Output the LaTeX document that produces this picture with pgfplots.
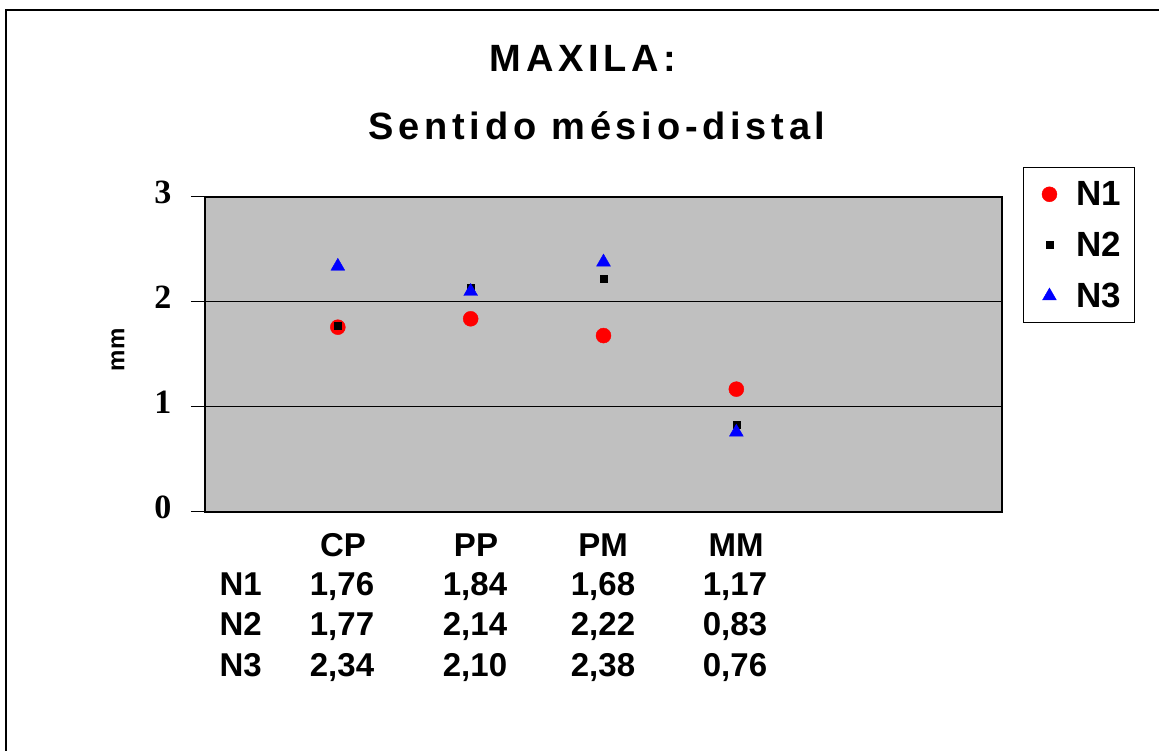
\documentclass[border=0pt]{standalone}
\usepackage{fontspec}
\setmainfont{Liberation Sans}
\newfontfamily\seriffont{Liberation Serif}
\newfontfamily\titlefont[LetterSpace=12.5]{Liberation Sans}
\usepackage{pgfplots}
\pgfplotsset{compat=1.18}
\definecolor{plotgray}{HTML}{C0C0C0}
\begin{document}
\begin{tikzpicture}[x=1pt,y=1pt]
\useasboundingbox (0,0) rectangle (1159,751);
\draw[line width=2pt] (6,-2) -- (6,741) -- (1162,741);
\node[anchor=base] at (583,679) {\titlefont\bfseries\fontsize{38}{38}\selectfont MAXILA:};
\node[anchor=base] at (597,611) {\titlefont\bfseries\fontsize{38}{38}\selectfont Sentido mésio-distal};
\node[rotate=90] at (118,401) {\bfseries\fontsize{24}{24}\selectfont mm};
\begin{axis}[
  at={(205pt,239pt)}, anchor=origin, scale only axis,
  width=797pt, height=315pt,
  xmin=0, xmax=6, ymin=0, ymax=3,
  xtick=\empty, ytick={0,1,2,3},
  ymajorgrids, grid style={black, line width=1pt},
  axis line style={black, line width=1.2pt},
  axis background/.style={fill=plotgray},
  tick align=outside, ytick pos=left, major tick length=14pt,
  tick style={black, line width=1pt},
  /pgf/number format/assume math mode=true,
  yticklabel style={font=\seriffont\bfseries\fontsize{34}{34}\selectfont, yshift=5pt, xshift=-16pt},
  clip=false,
  legend image code/.code={\path[draw=none,fill=none] (0pt,-10pt) rectangle (40pt,10pt); \draw[#1] plot coordinates {(18pt,0pt)};},
  legend style={at={(1.0263,1.0952)}, anchor=north west, draw=black, line width=1pt, fill=white,
    font=\bfseries\fontsize{35}{35}\selectfont, row sep=21pt, inner xsep=8pt, inner ysep=12pt,
    legend cell align=left, nodes={inner xsep=5pt}},
]
\addplot[only marks, mark=*, mark size=7.5pt, mark options={fill=red, draw=red, line width=0.4pt}]
  coordinates {(1,1.76) (2,1.84) (3,1.68) (4,1.17)};
\addlegendentry{N1}
\addplot[only marks, mark=square*, mark size=3.5pt, mark options={fill=black, draw=black, line width=0.4pt}]
  coordinates {(1,1.77) (2,2.14) (3,2.22) (4,0.83)};
\addlegendentry{N2}
\addplot[only marks, mark=triangle*, mark size=8pt, mark options={fill=blue, draw=blue, line width=0.4pt}]
  coordinates {(1,2.34) (2,2.10) (3,2.38) (4,0.76)};
\addlegendentry{N3}
\end{axis}
\begin{scope}[font=\bfseries\fontsize{33}{33}\selectfont]
\node[anchor=base] at (343,194) {CP};
\node[anchor=base] at (476,194) {PP};
\node[anchor=base] at (603,194) {PM};
\node[anchor=base] at (736,194) {MM};
\node[anchor=base west] at (216,155) {N1};
\node[anchor=base west] at (216,115) {N2};
\node[anchor=base west] at (216,74) {N3};
\node[anchor=base] at (342,155) {1,76};
\node[anchor=base] at (475,155) {1,84};
\node[anchor=base] at (603,155) {1,68};
\node[anchor=base] at (735,155) {1,17};
\node[anchor=base] at (342,115) {1,77};
\node[anchor=base] at (475,115) {2,14};
\node[anchor=base] at (603,115) {2,22};
\node[anchor=base] at (735,115) {0,83};
\node[anchor=base] at (342,74) {2,34};
\node[anchor=base] at (475,74) {2,10};
\node[anchor=base] at (603,74) {2,38};
\node[anchor=base] at (735,74) {0,76};
\end{scope}
\end{tikzpicture}
\end{document}
